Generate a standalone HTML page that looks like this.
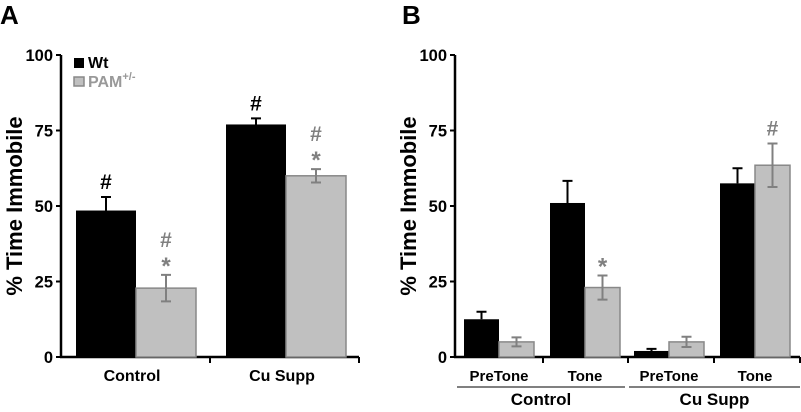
<!DOCTYPE html>
<html><head><meta charset="utf-8"><style>
body{margin:0;background:#fff}
svg{display:block;font-family:"Liberation Sans",Arial,sans-serif;font-weight:bold}
</style></head><body>
<svg id="c" width="801" height="412" viewBox="0 0 801 412">
<text x="0" y="24" font-size="26">A</text>
<text x="402" y="24" font-size="26">B</text>
<g id="ga"></g>
<g id="gb"></g>
</svg>
<script>
const ticks=[0,25,50,75,100];
const aCategories=["Control","Cu Supp"];
const aWt=[48.5,77];
const aWtErr=[4.5,2];
const aPam=[22.8,60];
const aPamErr=[4.4,2.2];
const aWtMarks=["#","#"];
const aPamMarks=[["#","*"],["#","*"]];
const bSub=["PreTone","Tone","PreTone","Tone"];
const bGroups=["Control","Cu Supp"];
const bWt=[12.5,51,2,57.5];
const bWtErr=[2.5,7.3,0.7,5];
const bPam=[5,23,5,63.5];
const bPamErr=[1.5,4,1.7,7.2];
const bPamMarks=[[],["*"],[],["#"]];

const NS="http://www.w3.org/2000/svg";
function el(p,t,a,txt){const e=document.createElementNS(NS,t);for(const k in a)e.setAttribute(k,a[k]);if(txt!==undefined)e.textContent=txt;p.appendChild(e);return e;}
const y0=357,y1=55;
function Y(v){return y0-(y0-y1)*v/100;}

function axes(g,ax,xend,xt){
  let e=el(g,'line',{x1:ax,y1:Y(100),x2:ax,y2:y0+1,stroke:'#000','stroke-width':2.5});
  
  e=el(g,'line',{x1:ax-1,y1:y0,x2:xend,y2:y0,stroke:'#000','stroke-width':2.5});
  
  ticks.forEach(t=>{
    let l=el(g,'line',{x1:ax-5,y1:Y(t),x2:ax,y2:Y(t),stroke:'#000','stroke-width':2});
    
    let tx=el(g,'text',{x:ax-8,y:Y(t)+6,'font-size':16.5,'text-anchor':'end'},t);
    
  });
  xt.forEach(x=>{let l=el(g,'line',{x1:x,y1:y0,x2:x,y2:y0+6,stroke:'#000','stroke-width':2});
    });
  let t=el(g,'text',{transform:`translate(${ax-39},206) rotate(-90)`,'font-size':22,'text-anchor':'middle'},'% Time Immobile');
  
}
function bar(g,x,w,v,err,wt,name){
  let r=el(g,'rect',{x:x,y:Y(v),width:w,height:y0-Y(v),fill:wt?'#000':'#c0c0c0',stroke:wt?'#000':'#888','stroke-width':wt?0:1.5});
  
  const cx=x+w/2,col=wt?'#000':'#808080';
  const lo=wt?Y(v):Y(v-err);
  let e=el(g,'path',{d:`M${cx},${lo}V${Y(v+err)}M${cx-5},${Y(v+err)}H${cx+5}`+(wt?'':`M${cx-5},${Y(v-err)}H${cx+5}`),stroke:col,'stroke-width':2,fill:'none'});
  
}
function marks(g,cx,top,arr,col){
  arr.slice().reverse().forEach((m,i)=>{
    const y=top-8-i*20;
    let t=el(g,'text',{x:cx,y:m==='*'?y+7:y,'font-size':m==='*'?24:21,'text-anchor':'middle',fill:col},m);
    
  });
}
const ga=document.getElementById('ga');
axes(ga,61,359,[210,359]);
const aCenters=[136,286],aw=60;
aCategories.forEach((c,i)=>{
  const cx=aCenters[i];
  bar(ga,cx-aw,aw,aWt[i],aWtErr[i],true,'bar-wt-'+i);
  bar(ga,cx,aw,aPam[i],aPamErr[i],false,'bar-pam-'+i);
  marks(ga,cx-aw/2,Y(aWt[i]+aWtErr[i]),[aWtMarks[i]],'#000');
  marks(ga,cx+aw/2,Y(aPam[i]+aPamErr[i]),aPamMarks[i],'#808080');
  let t=el(ga,'text',{x:cx-4,y:381,'font-size':16,'text-anchor':'middle'},c);
  
});
let lg=el(ga,'rect',{x:74,y:58,width:10,height:10,fill:'#000'});

lg=el(ga,'text',{x:88,y:68,'font-size':16},'Wt');

lg=el(ga,'rect',{x:74,y:77,width:10,height:9,fill:'#c0c0c0',stroke:'#888','stroke-width':1.5});

lg=el(ga,'text',{x:88,y:87,'font-size':16,fill:'#999'});
lg.innerHTML='PAM<tspan dy="-7" font-size="11">+/-</tspan>';

const gb=document.getElementById('gb');
axes(gb,455,800,[543,628,714,800]);
const bCenters=[499,585,669,755],bw=35;
bSub.forEach((s,i)=>{
  const cx=bCenters[i];
  bar(gb,cx-bw,bw,bWt[i],bWtErr[i],true,'bar-wt-'+i);
  bar(gb,cx,bw,bPam[i],bPamErr[i],false,'bar-pam-'+i);
  marks(gb,cx+bw/2,Y(bPam[i]+bPamErr[i]),bPamMarks[i],'#808080');
  let t=el(gb,'text',{x:cx,y:381,'font-size':15,'text-anchor':'middle'},s);
  
});
[[457,625],[629,800]].forEach((r,i)=>{
  let l=el(gb,'line',{x1:r[0],y1:387,x2:r[1],y2:387,stroke:'#000','stroke-width':1});
  
  let t=el(gb,'text',{x:(r[0]+r[1])/2,y:405,'font-size':17,'text-anchor':'middle'},bGroups[i]);
  
});
</script>
</body></html>
